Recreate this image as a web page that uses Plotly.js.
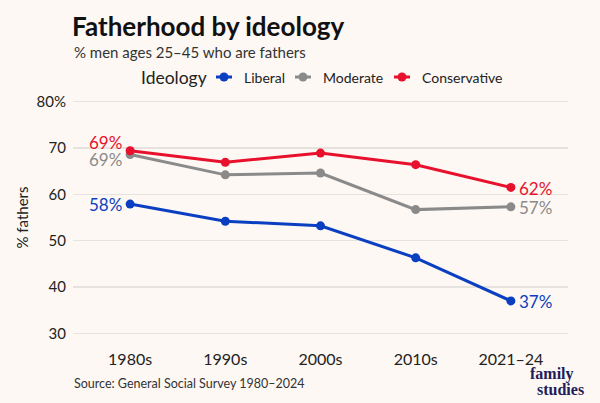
<!DOCTYPE html>
<html>
<head>
<meta charset="utf-8">
<script src="https://cdn.plot.ly/plotly-3.0.1.min.js"></script>
<style>
html,body{margin:0;padding:0;background:#fdf8f3;}
#chart{width:600px;height:403px;}
</style>
</head>
<body>
<div id="chart"></div>
<script>
const categories = ['1980s', '1990s', '2000s', '2010s', '2021–24'];
const liberal = [57.9, 54.2, 53.2, 46.3, 37.0];
const moderate = [68.6, 64.2, 64.6, 56.7, 57.3];
const conservative = [69.4, 66.9, 68.9, 66.4, 61.5];
const seriesNames = ['Liberal', 'Moderate', 'Conservative'];
const yTickVals = [30, 40, 50, 60, 70, 80];
const yTickText = ['30', '40', '50', '60', '70', '80%'];

const colors = {Liberal: '#0b3fc2', Moderate: '#8a8a8a', Conservative: '#e8112d'};
const seriesData = {Liberal: liberal, Moderate: moderate, Conservative: conservative};
const FONT = 'Lato, "Noto Sans", sans-serif';

const W = 600, H = 403;
const M = {l: 73, r: 32, t: 97, b: 65};
const pw = W - M.l - M.r, ph = H - M.t - M.b;
const px2x = px => (px - M.l) / pw;
const py2y = py => (H - M.b - py) / ph;

const traces = seriesNames.map(name => ({
  type: 'scatter',
  mode: 'lines+markers',
  name: name,
  x: categories,
  y: seriesData[name],
  line: {color: colors[name], width: 3},
  marker: {color: colors[name], size: 9},
  hoverinfo: 'skip',
  showlegend: false
}));

const firstShift = {Liberal: 0, Moderate: -5, Conservative: 8};
const annotations = [];
seriesNames.forEach(name => {
  const vals = seriesData[name];
  annotations.push({
    x: categories[0], y: vals[0], xref: 'x', yref: 'y',
    text: Math.round(vals[0]) + '%', showarrow: false,
    xanchor: 'right', yanchor: 'middle', xshift: -6, yshift: firstShift[name],
    font: {family: FONT, size: 17, color: colors[name]}
  });
  const n = vals.length - 1;
  annotations.push({
    x: categories[n], y: vals[n], xref: 'x', yref: 'y',
    text: Math.round(vals[n]) + '%', showarrow: false,
    xanchor: 'left', yanchor: 'middle', xshift: 6, yshift: -1,
    font: {family: FONT, size: 17, color: colors[name]}
  });
});

annotations.push({
  xref: 'paper', yref: 'paper', x: px2x(72), y: py2y(52), xanchor: 'left', yanchor: 'middle',
  text: '% men ages 25–45 who are fathers', showarrow: false,
  font: {family: FONT, size: 15, color: '#333'}
});
annotations.push({
  xref: 'paper', yref: 'paper', x: px2x(72), y: py2y(383),
  xanchor: 'left', yanchor: 'middle', showarrow: false,
  text: 'Source: General Social Survey 1980–2024',
  font: {family: FONT, size: 12.5, color: '#333'}
});
annotations.push({
  xref: 'paper', yref: 'paper', x: px2x(551.5), y: py2y(374),
  xanchor: 'center', yanchor: 'middle', showarrow: false,
  text: '<b>family</b>',
  font: {family: '"Liberation Serif", serif', size: 16, color: '#1f1d5c'}
});
annotations.push({
  xref: 'paper', yref: 'paper', x: px2x(560.5), y: py2y(389),
  xanchor: 'center', yanchor: 'middle', showarrow: false,
  text: '<b>studies</b>',
  font: {family: '"Liberation Serif", serif', size: 16, color: '#1f1d5c'}
});

// Legend (drawn with annotations and shapes)
const legendY = 77;
const legendTitleX = 139;
const legendMarkerX = {Liberal: 224, Moderate: 303, Conservative: 402};
const shapes = [];
annotations.push({
  xref: 'paper', yref: 'paper', x: px2x(legendTitleX), y: py2y(legendY),
  xanchor: 'left', yanchor: 'middle', showarrow: false,
  text: 'Ideology', font: {family: FONT, size: 17.5, color: '#222'}
});
seriesNames.forEach(name => {
  const cx = legendMarkerX[name];
  shapes.push({
    type: 'line', xref: 'paper', yref: 'paper',
    x0: px2x(cx - 8), x1: px2x(cx + 8), y0: py2y(legendY), y1: py2y(legendY),
    line: {color: colors[name], width: 3}
  });
  shapes.push({
    type: 'circle', xref: 'paper', yref: 'paper',
    x0: px2x(cx - 4.5), x1: px2x(cx + 4.5), y0: py2y(legendY + 4.5), y1: py2y(legendY - 4.5),
    fillcolor: colors[name], line: {width: 0}
  });
  annotations.push({
    xref: 'paper', yref: 'paper', x: px2x(cx + 18), y: py2y(legendY),
    xanchor: 'left', yanchor: 'middle', showarrow: false,
    text: name, font: {family: FONT, size: 14, color: '#222'}
  });
});

const layout = {
  width: W, height: H,
  paper_bgcolor: '#fdf8f3', plot_bgcolor: '#fdf8f3',
  font: {family: FONT, color: '#222'},
  margin: M,
  title: {
    text: '<b>Fatherhood by ideology</b>',
    x: 72 / W, xanchor: 'left', xref: 'container',
    y: 1 - 27 / H, yanchor: 'middle', yref: 'container',
    font: {family: FONT, size: 26, color: '#111'}
  },
  showlegend: false,
  xaxis: {
    type: 'category', range: [-0.6, 4.6],
    showgrid: false, zeroline: false, showline: false, ticks: '',
    ticklabelstandoff: 10,
    tickfont: {family: FONT, size: 16, color: '#222'},
    fixedrange: true
  },
  yaxis: {
    range: [29, 81],
    tickvals: yTickVals, ticktext: yTickText,
    showgrid: true, gridcolor: '#e6e2de', gridwidth: 1.5,
    zeroline: false, showline: false, ticks: '',
    ticklabelstandoff: 6,
    tickfont: {family: FONT, size: 15, color: '#222'},
    title: {text: '% fathers', font: {family: FONT, size: 15, color: '#222'}, standoff: 4},
    fixedrange: true
  },
  shapes: shapes,
  annotations: annotations
};

Plotly.newPlot('chart', traces, layout, {displayModeBar: false, staticPlot: true});
</script>
</body>
</html>
